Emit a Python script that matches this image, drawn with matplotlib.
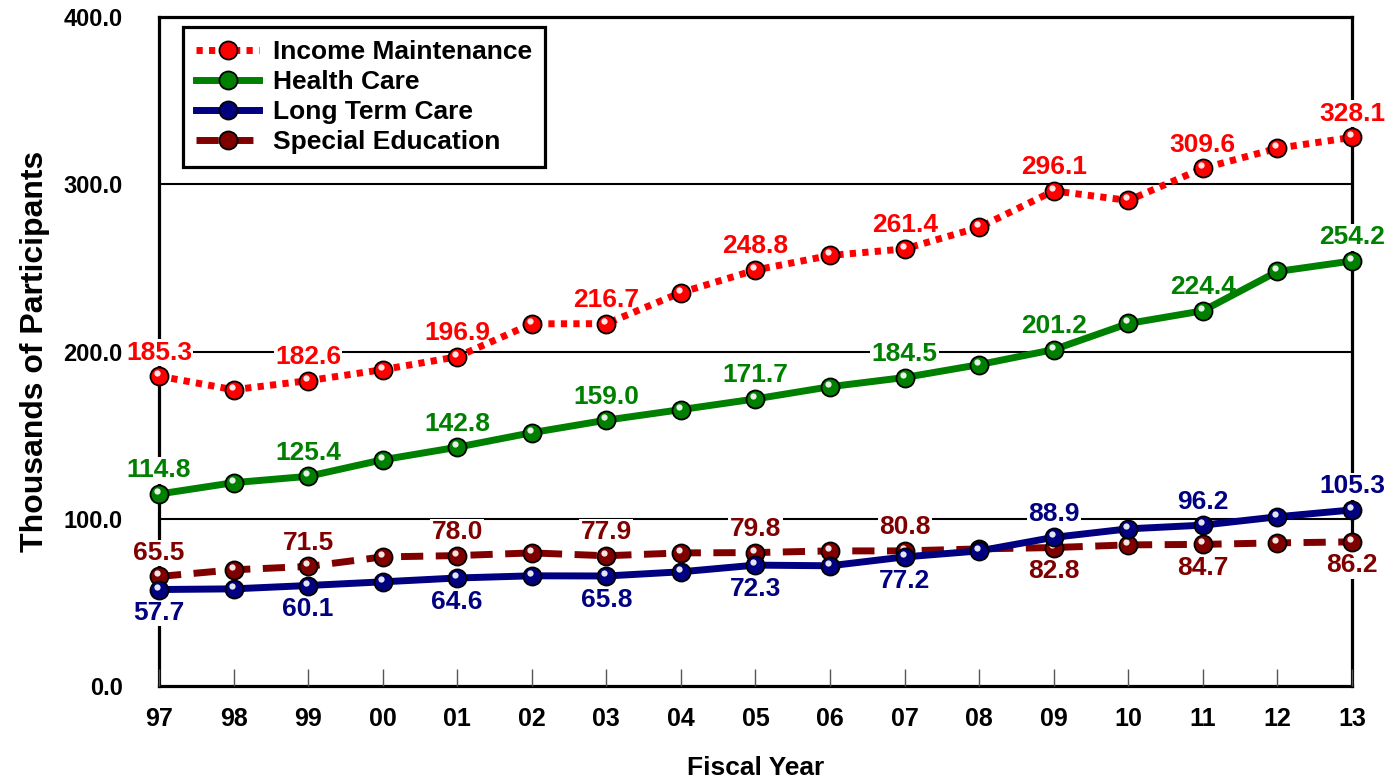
import matplotlib
matplotlib.use("Agg")
import matplotlib.pyplot as plt
from matplotlib.lines import Line2D
from matplotlib.transforms import offset_copy

plt.rcParams["font.family"] = ["Liberation Sans", "DejaVu Sans"]
plt.rcParams["font.weight"] = "bold"

years = ["97", "98", "99", "00", "01", "02", "03", "04", "05", "06", "07", "08", "09", "10", "11", "12", "13"]

income = [185.3, 177.2, 182.6, 189.2, 196.9, 216.6, 216.7, 235.3, 248.8, 257.5, 261.4, 274.3, 296.1, 290.4, 309.6, 321.6, 328.1]
health = [114.8, 121.6, 125.4, 135.3, 142.8, 151.5, 159.0, 165.3, 171.7, 179.0, 184.5, 192.2, 201.2, 216.8, 224.4, 247.9, 254.2]
long_term = [57.7, 58.1, 60.1, 62.3, 64.6, 65.9, 65.8, 68.3, 72.3, 71.9, 77.2, 80.8, 88.9, 94.0, 96.2, 101.2, 105.3]
special_ed = [65.5, 69.5, 71.5, 77.2, 78.0, 79.6, 77.9, 79.6, 79.8, 80.8, 80.8, 82.0, 82.8, 84.4, 84.7, 85.6, 86.2]

labeled = [0, 2, 4, 6, 8, 10, 12, 14, 16]
# label above (+1) or below (-1) the point
ltc_side = [-1, -1, -1, -1, -1, -1, 1, 1, 1]
sped_side = [1, 1, 1, 1, 1, 1, -1, -1, -1]

series = [
    ("Special Education", special_ed, "#800000", (0, (3.2, 1.8)), sped_side, 3),
    ("Long Term Care", long_term, "#000080", "-", ltc_side, 4),
    ("Health Care", health, "#008000", "-", [1] * 9, 5),
    ("Income Maintenance", income, "#ff0000", (0, (0.9, 0.9)), [1] * 9, 6),
]

fig = plt.figure(figsize=(13.97, 7.8), dpi=100)
ax = fig.add_axes([0.1138, 0.1205, 0.854, 0.8575])
x = list(range(len(years)))
hl = offset_copy(ax.transData, fig=fig, x=-2, y=3, units="dots")

handles = {}
for name, vals, color, ls, sides, z in series:
    ax.plot(x, vals, color=color, lw=5, ls=ls, zorder=z, clip_on=False, solid_capstyle="butt")
    ax.plot(x, vals, ls="none", marker="o", ms=13, mfc=color, mec="black", mew=1.3,
            zorder=z + 0.2, clip_on=False)
    ax.plot(x, vals, ls="none", marker="o", ms=4.5, mfc="white", mec="none", alpha=0.9,
            transform=hl, zorder=z + 0.3, clip_on=False)
    for i, s in zip(labeled, sides):
        ax.annotate(f"{vals[i]:.1f}", (x[i], vals[i]), xytext=(0, 17 * s), textcoords="offset points",
                    ha="center", va="center", fontsize=19, fontweight="bold", color=color,
                    bbox=dict(boxstyle="square,pad=0.05", fc="white", ec="none"),
                    zorder=2.8, annotation_clip=False)
    handles[name] = Line2D([], [], color=color, lw=5, ls=ls, marker="o", ms=13,
                           mfc=color, mec="black", mew=1.3)

ax.set_xlim(0, len(years) - 1)
ax.set_ylim(0, 400)
ax.set_yticks([0, 100, 200, 300, 400])
ax.set_yticklabels([f"{v:.1f}" for v in [0, 100, 200, 300, 400]])
ax.set_xticks(x)
ax.set_xticklabels(years)
ax.tick_params(axis="y", length=0, pad=26, labelsize=17)
ax.tick_params(axis="x", direction="in", length=12, width=1, color="#555555", pad=15, labelsize=18)
for lab in ax.get_xticklabels() + ax.get_yticklabels():
    lab.set_fontweight("bold")

for v in [100, 200, 300]:
    ax.axhline(v, color="black", lw=1.5, zorder=1)
for sp in ax.spines.values():
    sp.set_linewidth(2.3)
    sp.set_zorder(1.5)

ax.set_ylabel("Thousands of Participants", fontsize=23, fontweight="bold", labelpad=10)
ax.set_xlabel("Fiscal Year", fontsize=19, fontweight="bold", labelpad=18)

order = ["Income Maintenance", "Health Care", "Long Term Care", "Special Education"]
leg = ax.legend([handles[n] for n in order], order,
                loc="upper left", bbox_to_anchor=(0.02, 0.985), borderaxespad=0,
                prop={"weight": "bold", "size": 19}, handlelength=2.4,
                handletextpad=0.5, labelspacing=0.22, fancybox=False, framealpha=1,
                edgecolor="black", borderpad=0.5)
leg.get_frame().set_linewidth(2.3)
leg.set_zorder(10)

fig.savefig("out.png", dpi=100)
